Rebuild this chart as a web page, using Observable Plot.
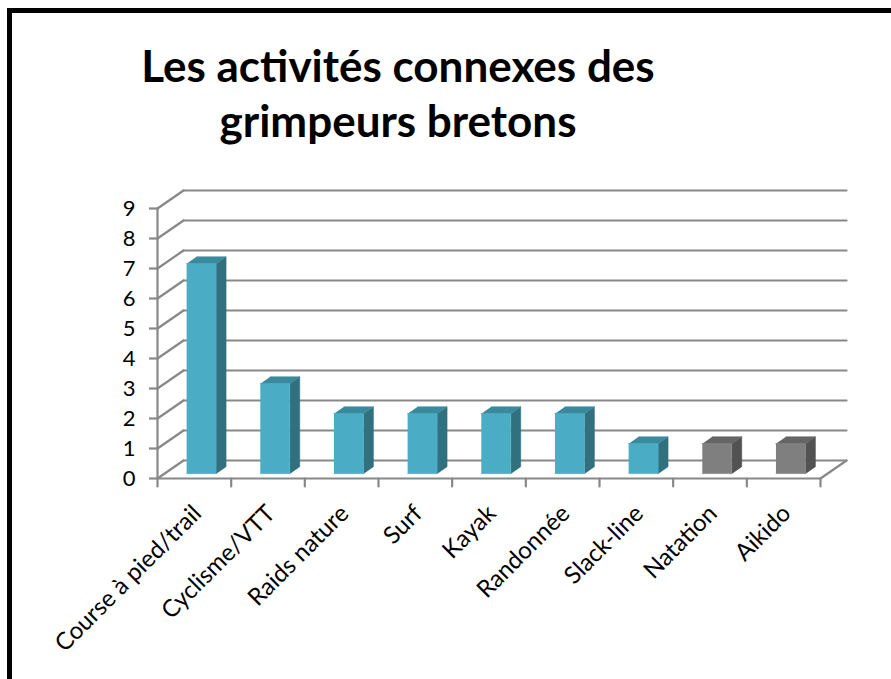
<!DOCTYPE html>
<html>
<head>
<meta charset="utf-8">
<script src="https://cdn.jsdelivr.net/npm/d3@7"></script>
<script src="https://cdn.jsdelivr.net/npm/@observablehq/plot@0.6"></script>
<style>
  html, body { margin: 0; padding: 0; background: #fff; overflow: hidden; }
  #wrap { position: relative; width: 891px; height: 679px; }
  #frame { position: absolute; left: 7px; top: 8px; width: 900px; height: 700px;
           border-left: 5px solid #000; border-top: 5px solid #000; box-sizing: border-box; }
  #title { position: absolute; left: 98px; width: 600px; top: 38px; text-align: center;
           font-family: Lato, "Open Sans", sans-serif; font-weight: bold; font-size: 44px;
           line-height: 55px; color: #000; white-space: nowrap; }
  #chart { position: absolute; left: 0; top: 0; }
</style>
</head>
<body>
<div id="wrap">
  <div id="chart"></div>
  <div id="title">Les activités connexes des<br>grimpeurs bretons</div>
  <div id="frame"></div>
</div>
<script>
// ---- data ----
const categories = ["Course à pied/trail", "Cyclisme/VTT", "Raids nature", "Surf", "Kayak", "Randonnée", "Slack-line", "Natation", "Aikido"];
const values = [7, 3, 2, 2, 2, 2, 1, 1, 1];
const series = ["aqua", "aqua", "aqua", "aqua", "aqua", "aqua", "aqua", "gray", "gray"];
const yTicks = [0, 1, 2, 3, 4, 5, 6, 7, 8, 9];

// ---- styling / layout ----
const W = 891, H = 679;
const M = {left: 157, right: 71, top: 208, bottom: 201};
const GRID = "#888888";
const palette = {
  aqua: {front: "#4BACC6", side: "#31707F", top: "#3A8A9E"},
  gray: {front: "#7F7F7F", side: "#525252", top: "#656565"}
};
const n = categories.length;
const yMax = yTicks[yTicks.length - 1];
const pxX = (W - M.left - M.right) / n;
const pxY = (H - M.top - M.bottom) / yMax;
// oblique depth: full depth = 26px right, 18px up
const KX = 26 / pxX, KY = 18 / pxY;
const P = (x, y, d) => ({x: x + d * KX, y: y + d * KY});

// wireframe segments
const segs = [];
let sid = 0;
const seg = (a, b) => { segs.push({...a, id: sid}, {...b, id: sid}); sid++; };
yTicks.forEach(v => {
  seg(P(0, v, 1), P(n, v, 1));        // back wall gridline
  seg(P(0, v, 0), P(0, v, 1));        // side wall diagonal
});
seg(P(0, 0, 0), P(n, 0, 0));          // front floor edge
seg(P(n, 0, 0), P(n, 0, 1));          // right floor edge
seg(P(0, 0, 0), P(0, yMax, 0));       // value axis line
d3.range(n + 1).forEach(i => seg({x: i, y: 0}, {x: i, y: -8 / pxY})); // category ticks

// bar faces
const faces = [];
let fid = 0;
const BW0 = 0.3, BW1 = 0.7, D0 = 0.27, D1 = 0.655;
values.forEach((v, i) => {
  const c = palette[series[i]];
  const x0 = i + BW0, x1 = i + BW1;
  const add = (pts, fill) => { pts.forEach(p => faces.push({...p, id: fid, fill})); fid++; };
  add([P(x1, 0, D0), P(x1, 0, D1), P(x1, v, D1), P(x1, v, D0)], c.side);
  add([P(x0, v, D0), P(x1, v, D0), P(x1, v, D1), P(x0, v, D1)], c.top);
  add([P(x0, 0, D0), P(x1, 0, D0), P(x1, v, D0), P(x0, v, D0)], c.front);
});

const chart = Plot.plot({
  width: W, height: H,
  marginLeft: M.left, marginRight: M.right, marginTop: M.top, marginBottom: M.bottom,
  style: {fontFamily: "Lato, 'Open Sans', sans-serif", background: "transparent", color: "#000", overflow: "visible"},
  x: {type: "linear", domain: [0, n], axis: null},
  y: {domain: [0, yMax], axis: null},
  marks: [
    Plot.line(segs, {x: "x", y: "y", z: "id", stroke: GRID, strokeWidth: 2.2}),
    Plot.line(faces, {x: "x", y: "y", z: "id", fill: "fill", stroke: "fill", strokeWidth: 0.5}),
    Plot.axisY(yTicks, {label: null, tickSize: 8, tickPadding: 14, stroke: GRID, strokeWidth: 2.2, fontSize: 22, fill: "#000"}),
    Plot.text(categories, {x: (d, i) => i + 0.5, y: 0, text: d => d, rotate: -45, textAnchor: "end",
      dx: 3, dy: 31, fontSize: 24, fill: "#000"})
  ]
});
document.getElementById("chart").appendChild(chart);
</script>
</body>
</html>
